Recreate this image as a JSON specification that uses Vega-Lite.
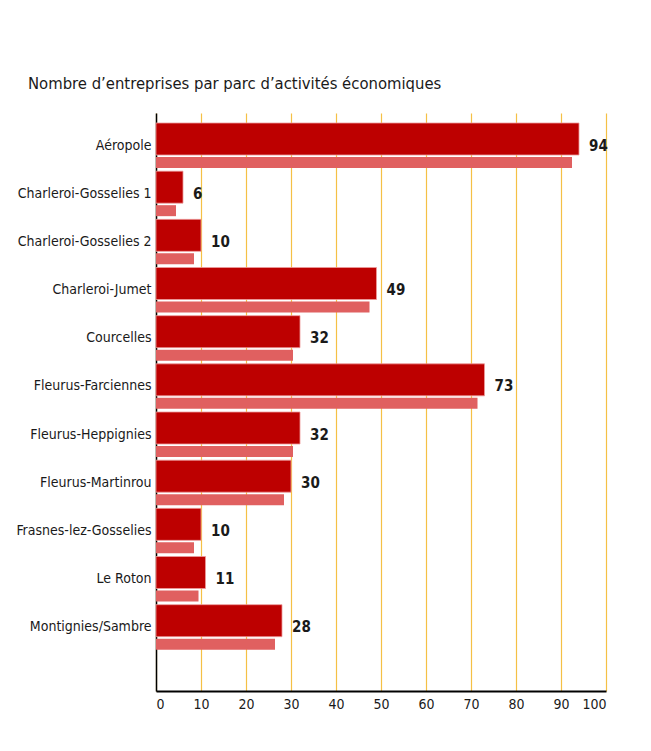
{
  "$schema": "https://vega.github.io/schema/vega-lite/v6.json",
  "autosize": "none",
  "width": 450,
  "height": 578,
  "padding": {"left": 156, "top": 113, "right": 45, "bottom": 60},
  "background": "white",
  "title": {
    "text": "Nombre d’entreprises par parc d’activités économiques",
    "anchor": "start",
    "frame": "group",
    "dx": -128,
    "offset": 21,
    "font": "DejaVu Sans Condensed, sans-serif",
    "fontSize": 16.5,
    "fontWeight": "normal",
    "color": "#1a1a1a"
  },
  "data": {
    "values": [
      {"parc": "Aéropole", "n": 94},
      {"parc": "Charleroi-Gosselies 1", "n": 6},
      {"parc": "Charleroi-Gosselies 2", "n": 10},
      {"parc": "Charleroi-Jumet", "n": 49},
      {"parc": "Courcelles", "n": 32},
      {"parc": "Fleurus-Farciennes", "n": 73},
      {"parc": "Fleurus-Heppignies", "n": 32},
      {"parc": "Fleurus-Martinrou", "n": 30},
      {"parc": "Frasnes-lez-Gosselies", "n": 10},
      {"parc": "Le Roton", "n": 11},
      {"parc": "Montignies/Sambre", "n": 28}
    ]
  },
  "encoding": {
    "y": {
      "field": "parc",
      "type": "nominal",
      "sort": null,
      "scale": {"paddingInner": 0, "paddingOuter": 0.5, "align": 0.175},
      "axis": {
        "title": null,
        "ticks": false,
        "labelPadding": 5,
        "labelFont": "DejaVu Sans Condensed, sans-serif",
        "labelFontSize": 14,
        "labelColor": "#1a1a1a",
        "domainColor": "black",
        "domainWidth": 1.5
      }
    }
  },
  "layer": [
    {
      "mark": {"type": "bar", "color": "#e06060", "size": 11, "yOffset": 17, "xOffset": -7, "x2Offset": 0},
      "encoding": {
        "x": {
          "field": "n",
          "type": "quantitative",
          "scale": {"domain": [0, 100], "nice": false},
          "axis": {
            "title": null,
            "values": [0, 10, 20, 30, 40, 50, 60, 70, 80, 90, 100],
            "grid": true,
            "gridColor": "#f5c045",
            "gridWidth": 1.2,
            "ticks": false,
            "labelPadding": 6,
            "labelFont": "DejaVu Sans Condensed, sans-serif",
            "labelFontSize": 14,
            "labelColor": "#1a1a1a",
            "domainColor": "black",
            "domainWidth": 2
          }
        },
        "x2": {"datum": 0}
      }
    },
    {
      "mark": {"type": "bar", "color": "#bd0000", "size": 32, "yOffset": -6.5, "stroke": "#ee9a9a", "strokeWidth": 0.8},
      "encoding": {
        "x": {"field": "n", "type": "quantitative"}
      }
    },
    {
      "mark": {
        "type": "text",
        "align": "left",
        "baseline": "middle",
        "dx": 10,
        "font": "DejaVu Sans Condensed, sans-serif",
        "fontSize": 15,
        "fontWeight": "bold",
        "color": "#1a1a1a"
      },
      "encoding": {
        "x": {"field": "n", "type": "quantitative"},
        "text": {"field": "n", "type": "quantitative"}
      }
    }
  ],
  "config": {"view": {"stroke": null}}
}
